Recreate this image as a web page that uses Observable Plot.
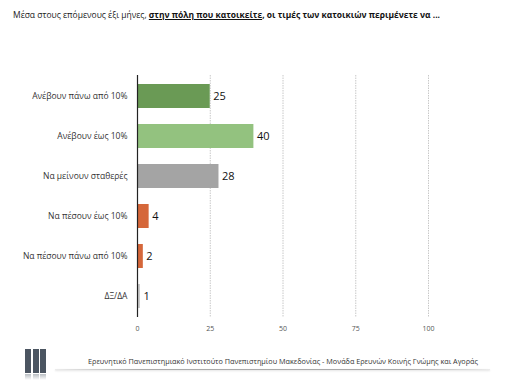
<!DOCTYPE html>
<html>
<head>
<meta charset="utf-8">
<script src="https://cdn.jsdelivr.net/npm/d3@7"></script>
<script src="https://cdn.jsdelivr.net/npm/@observablehq/plot@0.6"></script>
<style>
  html, body { margin: 0; padding: 0; background: #fff; }
  #wrap { position: relative; width: 507px; height: 381px; overflow: hidden; font-family: "Open Sans", sans-serif; }
  #title { position: absolute; left: 13px; top: 8px; font-size: 9px; color: #222; white-space: nowrap; transform-origin: left center; }
  #title b { font-weight: 700; color: #111; }
  #footer { position: absolute; left: 88px; top: 355px; font-size: 8px; color: #333; white-space: nowrap; transform-origin: left center; }
  #fline { position: absolute; left: 55px; top: 369px; width: 435px; height: 1px;
           background: linear-gradient(to right, rgba(160,160,160,0.2), #aaa 20%, #aaa 80%, rgba(160,160,160,0.2));
           box-shadow: 0 1px 2px rgba(0,0,0,0.15); }
  #logo { position: absolute; left: 25px; top: 349px; }
  #logo span { position: absolute; top: 0; width: 6px; height: 24px; background: #4b5561; }
  #logo i { position: absolute; top: 25px; width: 6px; height: 6px; background: linear-gradient(#b8bdc2, rgba(255,255,255,0)); }
  #chart { position: absolute; left: 0; top: 0; }
</style>
</head>
<body>
<div id="wrap">
  <div id="chart"></div>
  <div id="title">Μέσα στους επόμενους έξι μήνες, <b><u>στην πόλη που κατοικείτε</u>, οι τιμές των κατοικιών περιμένετε να ...</b></div>
  <div id="logo">
    <span style="left:0px"></span><span style="left:8px"></span><span style="left:15px"></span>
    <i style="left:0px"></i><i style="left:8px"></i><i style="left:15px"></i>
  </div>
  <div id="footer">Ερευνητικό Πανεπιστημιακό Ινστιτούτο Πανεπιστημίου Μακεδονίας - Μονάδα Ερευνών Κοινής Γνώμης και Αγοράς</div>
  <div id="fline"></div>
</div>
<script>
const categories = ["Ανέβουν πάνω από 10%", "Ανέβουν έως 10%", "Να μείνουν σταθερές", "Να πέσουν έως 10%", "Να πέσουν πάνω από 10%", "ΔΞ/ΔΑ"];
const values = [25, 40, 28, 4, 2, 1];
const xTicks = [0, 25, 50, 75, 100];
const palette = ["#6a9a55", "#93c27f", "#a4a4a4", "#d5673a", "#d5673a", "#c9c9c9"];

const data = categories.map((c, i) => ({category: c, value: values[i]}));

const chart = Plot.plot({
  width: 507,
  height: 381,
  marginTop: 75,
  marginBottom: 64,
  marginLeft: 137,
  marginRight: 79,
  style: {fontFamily: "'Open Sans', sans-serif", background: "transparent", overflow: "visible"},
  x: {domain: [0, 100], ticks: xTicks, label: null, tickSize: 0, tickPadding: 9},
  y: {domain: categories, label: null, tickSize: 0, tickPadding: 10, paddingInner: 0.39, paddingOuter: 0.2},
  color: {domain: categories, range: palette},
  marks: [
    Plot.ruleX(xTicks.filter(d => d > 0), {stroke: "#c8c8c8", strokeWidth: 1, strokeDasharray: "1.5,1"}),
    Plot.axisX({ticks: xTicks, tickSize: 0, tickPadding: 9, fontSize: 7, fill: "#555", label: null}),
    Plot.axisY({tickSize: 0, tickPadding: 10, fontSize: 8.5, fill: "#333", label: null}),
    Plot.barX(data, {x: "value", y: "category", fill: "category"}),
    Plot.ruleX([0], {stroke: "#222", strokeWidth: 1.2}),
    Plot.text(data, {x: "value", y: "category", text: d => String(d.value), dx: 3, textAnchor: "start", fontSize: 11, fill: "#111"})
  ]
});
document.getElementById("chart").appendChild(chart);

function fit(id, target) {
  const el = document.getElementById(id);
  const w = el.getBoundingClientRect().width;
  if (w > 0) el.style.transform = `scaleX(${target / w})`;
}
fit("title", 427);
fit("footer", 390);
</script>
</body>
</html>
